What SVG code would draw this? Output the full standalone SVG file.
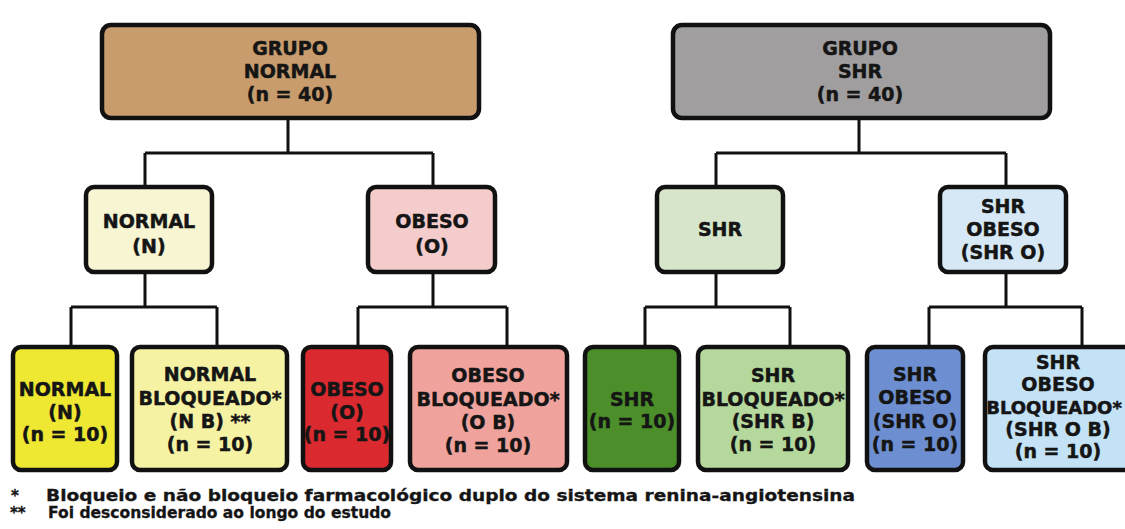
<svg xmlns="http://www.w3.org/2000/svg" width="1125" height="529" viewBox="0 0 1125 529">
<style>
.box{stroke:#111;stroke-width:4.5;}
.t{font-family:"DejaVu Sans",Verdana,sans-serif;font-weight:bold;font-size:19px;fill:#151515;stroke:#151515;stroke-width:0.5;text-anchor:middle;}
.f{font-family:"DejaVu Sans",Verdana,sans-serif;font-weight:bold;font-size:15px;fill:#151515;stroke:#151515;stroke-width:0.3;}
.c{fill:none;stroke:#111;stroke-width:3;}
</style>
<rect width="1125" height="529" fill="#ffffff"/>
<g id="connectors">
<path class="c" d="M288,118 V153 M145,153 H433 M145,153 V187 M433,153 V187"/>
<path class="c" d="M859,118 V153 M716,153 H1006 M716,153 V187 M1006,153 V187"/>
<path class="c" d="M145,272 V307 M71,307 H217 M71,307 V347 M217,307 V347"/>
<path class="c" d="M433,272 V307 M358,307 H507 M358,307 V347 M507,307 V347"/>
<path class="c" d="M716,272 V307 M645,307 H790 M645,307 V347 M790,307 V347"/>
<path class="c" d="M1006,272 V307 M929,307 H1082 M929,307 V347 M1082,307 V347"/>
</g>
<g id="grupo-normal">
<rect class="box" x="102" y="25" width="377" height="93" rx="9" fill="#c89c6c"/>
<text class="t" x="290" y="55">GRUPO</text>
<text class="t" x="290" y="78">NORMAL</text>
<text class="t" x="290" y="101">(n = 40)</text>
</g>
<g id="grupo-shr">
<rect class="box" x="673" y="25" width="377" height="93" rx="9" fill="#a09e9f"/>
<text class="t" x="860" y="55">GRUPO</text>
<text class="t" x="860" y="78">SHR</text>
<text class="t" x="860" y="101">(n = 40)</text>
</g>
<g id="normal">
<rect class="box" x="86" y="187" width="126" height="85" rx="8" fill="#f7f5d2"/>
<text class="t" x="149" y="228">NORMAL</text>
<text class="t" x="149" y="253">(N)</text>
</g>
<g id="obeso">
<rect class="box" x="368" y="187" width="127" height="85" rx="8" fill="#f4cccb"/>
<text class="t" x="432" y="228">OBESO</text>
<text class="t" x="432" y="253">(O)</text>
</g>
<g id="shr">
<rect class="box" x="657" y="187" width="126" height="85" rx="8" fill="#d7e6cb"/>
<text class="t" x="720" y="236">SHR</text>
</g>
<g id="shr-obeso">
<rect class="box" x="940" y="187" width="126" height="85" rx="8" fill="#d6e8f6"/>
<text class="t" x="1003" y="213">SHR</text>
<text class="t" x="1003" y="236">OBESO</text>
<text class="t" x="1003" y="259">(SHR O)</text>
</g>
<g id="normal-n">
<rect class="box" x="13" y="347" width="104" height="123" rx="8" fill="#eee833"/>
<text class="t" x="65" y="396">NORMAL</text>
<text class="t" x="65" y="419">(N)</text>
<text class="t" x="65" y="441">(n = 10)</text>
</g>
<g id="normal-bloqueado">
<rect class="box" x="132" y="347" width="155" height="123" rx="8" fill="#f6f2a4"/>
<text class="t" x="210" y="381">NORMAL</text>
<text class="t" x="210" y="405">BLOQUEADO*</text>
<text class="t" x="210" y="428">(N B) **</text>
<text class="t" x="210" y="451">(n = 10)</text>
</g>
<g id="obeso-o">
<rect class="box" x="303" y="347" width="88" height="123" rx="8" fill="#da2a2f"/>
<text class="t" x="347" y="396">OBESO</text>
<text class="t" x="347" y="419">(O)</text>
<text class="t" x="347" y="441">(n = 10)</text>
</g>
<g id="obeso-bloqueado">
<rect class="box" x="410" y="347" width="157" height="123" rx="8" fill="#f0a29c"/>
<text class="t" x="488" y="382">OBESO</text>
<text class="t" x="488" y="406">BLOQUEADO*</text>
<text class="t" x="488" y="429">(O B)</text>
<text class="t" x="488" y="452">(n = 10)</text>
</g>
<g id="shr-10">
<rect class="box" x="585" y="347" width="94" height="123" rx="8" fill="#4b8e2a"/>
<text class="t" x="632" y="406">SHR</text>
<text class="t" x="632" y="428">(n = 10)</text>
</g>
<g id="shr-bloqueado">
<rect class="box" x="698" y="347" width="150" height="123" rx="8" fill="#b5d89c"/>
<text class="t" x="773" y="382">SHR</text>
<text class="t" x="773" y="406">BLOQUEADO*</text>
<text class="t" x="773" y="428">(SHR B)</text>
<text class="t" x="773" y="451">(n = 10)</text>
</g>
<g id="shr-obeso-10">
<rect class="box" x="867" y="347" width="96" height="123" rx="8" fill="#6d8fd2"/>
<text class="t" x="915" y="381">SHR</text>
<text class="t" x="915" y="404">OBESO</text>
<text class="t" x="915" y="428">(SHR O)</text>
<text class="t" x="915" y="451">(n = 10)</text>
</g>
<g id="shr-obeso-bloqueado">
<rect class="box" x="985" y="347" width="150" height="123" rx="8" fill="#c3e2f6"/>
<text class="t" x="1058" y="369">SHR</text>
<text class="t" x="1058" y="391">OBESO</text>
<text class="t" x="1054" y="414" style="font-size:18px">BLOQUEADO*</text>
<text class="t" x="1058" y="436">(SHR O B)</text>
<text class="t" x="1058" y="458">(n = 10)</text>
</g>
<g id="footnotes">
<text class="f" x="11" y="501">*</text>
<text class="f" x="46" y="501" textLength="809" lengthAdjust="spacingAndGlyphs">Bloqueio e não bloqueio farmacológico duplo do sistema renina-angiotensina</text>
<text class="f" x="10" y="518">**</text>
<text class="f" x="48" y="518" textLength="343" lengthAdjust="spacingAndGlyphs">Foi desconsiderado ao longo do estudo</text>
</g>
</svg>
